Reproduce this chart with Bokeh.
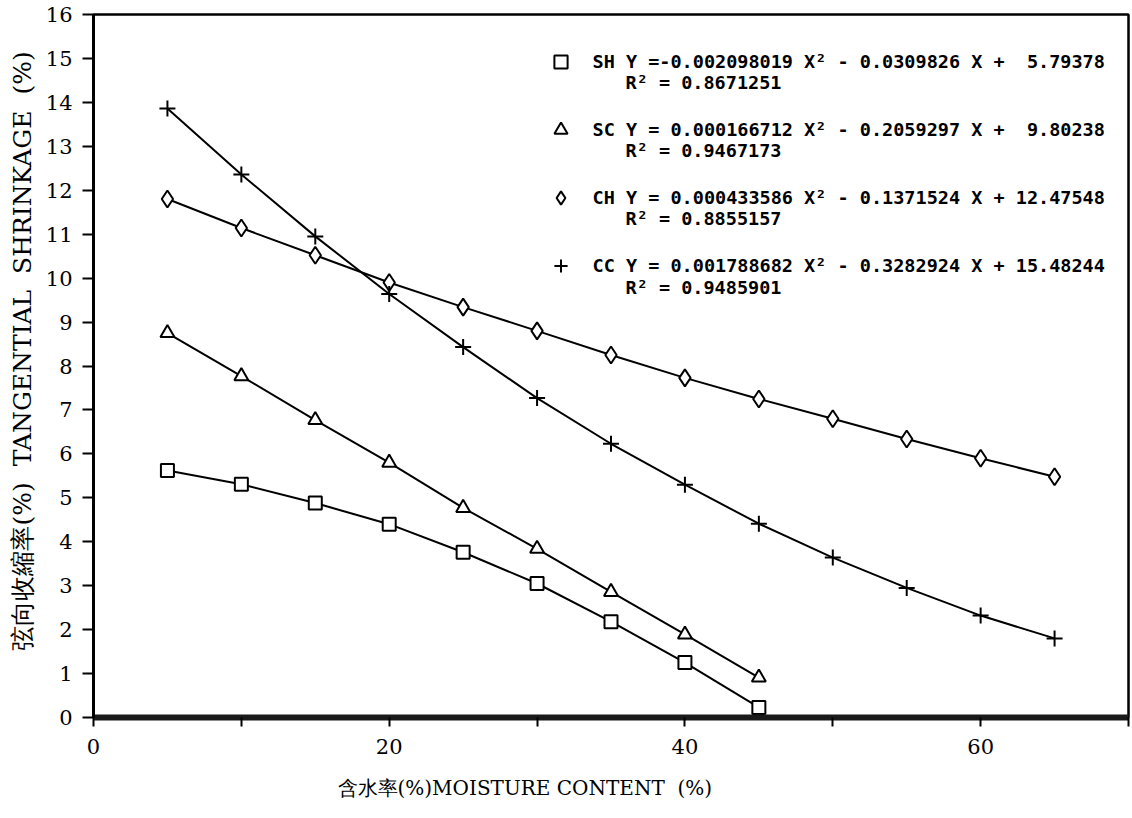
from bokeh.plotting import figure
from bokeh.models import Range1d, Legend, LegendItem, Label, FixedTicker, Title
from bokeh.embed import file_html
from bokeh.resources import INLINE

# ---- data ----
moisture_s = [5, 10, 15, 20, 25, 30, 35, 40, 45]
moisture_c = [5, 10, 15, 20, 25, 30, 35, 40, 45, 50, 55, 60, 65]
sh = [5.62, 5.31, 4.88, 4.40, 3.76, 3.05, 2.18, 1.25, 0.23]
sc = [8.75, 7.77, 6.77, 5.80, 4.77, 3.84, 2.86, 1.89, 0.91]
ch = [11.80, 11.14, 10.52, 9.90, 9.34, 8.80, 8.25, 7.73, 7.25, 6.80, 6.34, 5.90, 5.48]
cc = [13.86, 12.36, 10.95, 9.64, 8.43, 7.27, 6.23, 5.30, 4.41, 3.64, 2.95, 2.32, 1.80]

series_names = ["SH", "SC", "CH", "CC"]
equations = [
    "SH Y =-0.002098019 X\u00b2 - 0.0309826 X + \u00a05.79378",
    "SC Y = 0.000166712 X\u00b2 - 0.2059297 X + \u00a09.80238",
    "CH Y = 0.000433586 X\u00b2 - 0.1371524 X + 12.47548",
    "CC Y = 0.001788682 X\u00b2 - 0.3282924 X + 15.48244",
]
r_squared = ["R\u00b2 = 0.8671251", "R\u00b2 = 0.9467173", "R\u00b2 = 0.8855157", "R\u00b2 = 0.9485901"]

x_ticks = [0, 10, 20, 30, 40, 50, 60, 70]
x_tick_labels = ["0", "", "20", "", "40", "", "60", ""]
y_ticks = list(range(0, 17))

x_title = "含水率(%)MOISTURE CONTENT\u00a0 (%)"
y_title = "弦向收縮率(%)\u00a0 TANGENTIAL\u00a0 SHRINKAGE\u00a0 (%)"

# ---- layout ----
W, H = 1132, 818
FL, FR, FT, FB = 93, 1128, 14, 717  # frame edges in canvas px
XMIN, XMAX, YMIN, YMAX = 0, 70, 0, 16

def dx(px):  # canvas px -> data x
    return XMIN + (px - FL) * (XMAX - XMIN) / (FR - FL)

def dy(py):  # canvas px -> data y
    return YMIN + (FB - py) * (YMAX - YMIN) / (FB - FT)

serif = "DejaVu Serif"
mono = "DejaVu Sans Mono"

p = figure(width=W, height=H, output_backend="svg", toolbar_location=None,
           x_range=Range1d(XMIN, XMAX), y_range=Range1d(YMIN, YMAX),
           min_border_left=FL, min_border_right=W - FR,
           min_border_top=FT, min_border_bottom=H - FB)
p.grid.visible = False
p.outline_line_color = "black"
p.outline_line_width = 2.5
p.background_fill_color = "white"
p.border_fill_color = "white"

# axes
p.xaxis.ticker = FixedTicker(ticks=x_ticks)
p.xaxis.major_label_overrides = {t: l for t, l in zip(x_ticks, x_tick_labels)}
p.xaxis.axis_line_width = 6
p.xaxis.axis_line_color = "#1a1a1a"
p.xaxis.major_tick_in = 0
p.xaxis.major_tick_out = 9
p.xaxis.major_tick_line_width = 2
p.xaxis.minor_tick_line_color = None
p.xaxis.major_label_standoff = 12
p.xaxis.major_label_text_font = serif
p.xaxis.major_label_text_font_size = "21px"
p.xaxis.major_label_text_color = "black"

p.yaxis.ticker = FixedTicker(ticks=y_ticks)
p.yaxis.axis_line_width = 3
p.yaxis.axis_line_color = "black"
p.yaxis.major_tick_in = 0
p.yaxis.major_tick_out = 11
p.yaxis.major_tick_line_width = 2
p.yaxis.minor_tick_line_color = None
p.yaxis.major_label_standoff = 10
p.yaxis.major_label_text_font = serif
p.yaxis.major_label_text_font_size = "21px"
p.yaxis.major_label_text_color = "black"

# axis titles (as side titles so they can be placed like the original)
p.add_layout(Title(text=x_title, align="left", offset=337 - FL,
                   vertical_align="bottom", standoff=34,
                   text_font=serif, text_font_size="20px",
                   text_font_style="normal", text_color="black"), "below")
p.add_layout(Title(text=y_title, align="left", offset=FB - 650,
                   vertical_align="top", standoff=8,
                   text_font=serif, text_font_size="25px",
                   text_font_style="normal", text_color="black"), "left")

# series
specs = [
    (moisture_s, sh, "square", 13),
    (moisture_s, sc, "triangle", 14),
    (moisture_c, ch, "diamond", 17),
    (moisture_c, cc, "cross", 16),
]
items = []
for (xs, ys, marker, size), eq in zip(specs, equations):
    p.line(xs, ys, line_color="black", line_width=2)
    r = p.scatter(xs, ys, marker=marker, size=size, line_color="black",
                  line_width=2, fill_color="white")
    items.append(LegendItem(label=eq, renderers=[r]))

# legend (first line of each entry)
row_px = [60, 128, 196, 265]  # centres of legend rows (canvas px)
glyph = 33
spacing = (row_px[-1] - row_px[0]) / 3 - glyph
leg_top = row_px[0] - glyph / 2
leg_h = 4 * glyph + 3 * spacing
legend = Legend(items=items, location=(560 - glyph / 2 - FL, FB - (leg_top + leg_h)),
                padding=0, margin=0, spacing=int(round(spacing)),
                glyph_width=glyph, glyph_height=glyph, label_height=24,
                label_standoff=int(round(593 - (560 + glyph / 2))),
                label_text_font=mono, label_text_font_style="bold",
                label_text_font_size="18.5px", label_text_color="black",
                border_line_color=None, background_fill_alpha=0)
p.add_layout(legend)

# second line (R^2) of each entry
for rs, ry in zip(r_squared, row_px):
    p.add_layout(Label(x=dx(625), y=dy(ry + 22), text=rs,
                       text_font=mono, text_font_style="bold",
                       text_font_size="18.5px", text_color="black",
                       text_baseline="middle", text_align="left"))

open("out.html", "w").write(file_html(p, INLINE))
